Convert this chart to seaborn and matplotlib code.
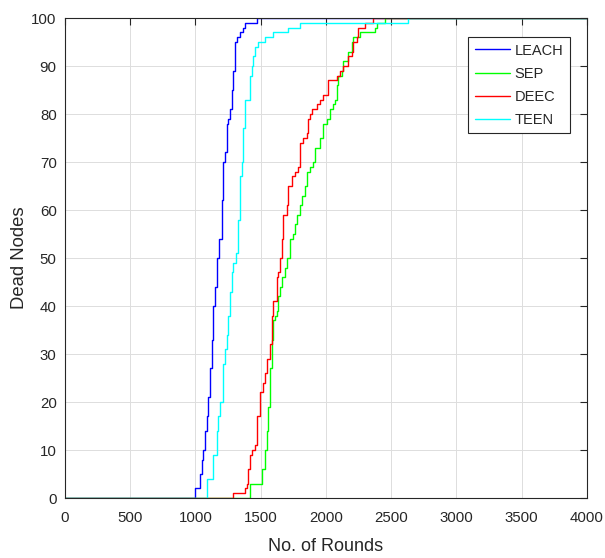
import pandas as pd
import matplotlib
matplotlib.use('Agg')
import matplotlib.pyplot as plt
import seaborn as sns

# Dead nodes over rounds (step points)
leach_rounds = [0, 996, 1034, 1048, 1060, 1073, 1088, 1096, 1111, 1124, 1134, 1149, 1162, 1180,
                1201, 1211, 1226, 1239, 1249, 1264, 1277, 1287, 1303, 1316, 1341, 1364, 1379, 1469, 4000]
leach_dead = [0, 2, 5, 8, 10, 14, 17, 21, 27, 33, 40, 44, 50, 54,
              62, 70, 72, 78, 79, 81, 85, 89, 95, 96, 97, 98, 99, 100, 100]

sep_rounds = [0, 1418, 1507, 1533, 1545, 1558, 1571, 1584, 1596, 1609, 1622, 1635, 1648, 1660, 1686,
              1699, 1724, 1750, 1762, 1775, 1801, 1814, 1839, 1852, 1877, 1903, 1916, 1954, 1980, 2005,
              2031, 2056, 2069, 2082, 2095, 2120, 2133, 2171, 2197, 2209, 2261, 2375, 2388, 2452, 4000]
sep_dead = [0, 3, 6, 10, 14, 19, 27, 33, 37, 38, 39, 42, 44, 46, 48,
            50, 54, 55, 57, 59, 61, 63, 65, 68, 69, 70, 73, 75, 78, 79,
            81, 82, 83, 86, 88, 89, 91, 93, 95, 96, 97, 98, 99, 100, 100]

deec_rounds = [0, 1290, 1379, 1392, 1405, 1418, 1430, 1456, 1469, 1494, 1520, 1533, 1545, 1571, 1584,
               1596, 1622, 1635, 1648, 1660, 1673, 1699, 1711, 1737, 1762, 1788, 1801, 1826, 1852, 1865,
               1877, 1890, 1928, 1954, 1980, 2018, 2082, 2107, 2133, 2171, 2197, 2209, 2235, 2248, 2299,
               2358, 4000]
deec_dead = [0, 1, 2, 3, 6, 9, 10, 11, 17, 22, 24, 26, 29, 32, 38,
             41, 46, 47, 50, 54, 59, 61, 65, 67, 68, 69, 74, 75, 76, 79,
             80, 81, 82, 83, 84, 87, 88, 89, 90, 92, 93, 95, 96, 98, 99,
             100, 100]

teen_rounds = [0, 1090, 1136, 1162, 1175, 1188, 1213, 1226, 1239, 1251, 1264, 1277, 1290, 1310, 1328,
               1341, 1354, 1366, 1379, 1418, 1430, 1443, 1456, 1481, 1533, 1596, 1709, 1801, 2628, 4000]
teen_dead = [0, 4, 9, 14, 17, 20, 28, 31, 34, 38, 43, 47, 49, 51, 58,
             67, 70, 77, 83, 88, 90, 92, 94, 95, 96, 97, 98, 99, 100, 100]

protocols = ['LEACH', 'SEP', 'DEEC', 'TEEN']
colores = {'LEACH': '#0000ff', 'SEP': '#00ff00', 'DEEC': '#ff0000', 'TEEN': '#00ffff'}

frames = []
for nome, r, d in [('LEACH', leach_rounds, leach_dead), ('SEP', sep_rounds, sep_dead),
                   ('DEEC', deec_rounds, deec_dead), ('TEEN', teen_rounds, teen_dead)]:
    frames.append(pd.DataFrame({'Rounds': r, 'Dead': d, 'Protocol': nome}))
dados = pd.concat(frames, ignore_index=True)

sns.set_style("whitegrid")
plt.rcParams['font.family'] = ['Liberation Sans', 'DejaVu Sans']

fig = plt.figure(figsize=(6.05, 5.58), dpi=100)
ax = fig.add_axes([0.1074, 0.1075, 0.8628, 0.8602])

sns.lineplot(data=dados, x='Rounds', y='Dead', hue='Protocol', hue_order=protocols,
             palette=colores, drawstyle='steps-post', linewidth=1.0, estimator=None,
             sort=False, ax=ax)

ax.set_xlim(0, 4000)
ax.set_ylim(0, 100)
ax.set_xticks(range(0, 4001, 500))
ax.set_yticks(range(0, 101, 10))
ax.set_xlabel('No. of Rounds', fontsize=13, color='#262626', labelpad=10)
ax.set_ylabel('Dead Nodes', fontsize=13.3, color='#262626', labelpad=2)
ax.tick_params(direction='in', length=5, width=0.8, labelsize=10.8, colors='#262626',
               top=True, right=True)
ax.tick_params(axis='x', pad=9)
ax.tick_params(axis='y', pad=6)
ax.grid(True, color='#dddddd', linewidth=0.7)
for s in ax.spines.values():
    s.set_color('#262626')
    s.set_linewidth(0.8)

leg = ax.legend(loc='upper right', bbox_to_anchor=(0.9674, 0.9604), borderaxespad=0,
                fontsize=10.5, frameon=True, fancybox=False, handlelength=2.4,
                borderpad=0.45, labelspacing=0.62, handletextpad=0.35)
leg.get_frame().set_edgecolor('#262626')
leg.get_frame().set_linewidth(0.8)
leg.get_frame().set_alpha(1)

fig.savefig('out.png', dpi=100)
